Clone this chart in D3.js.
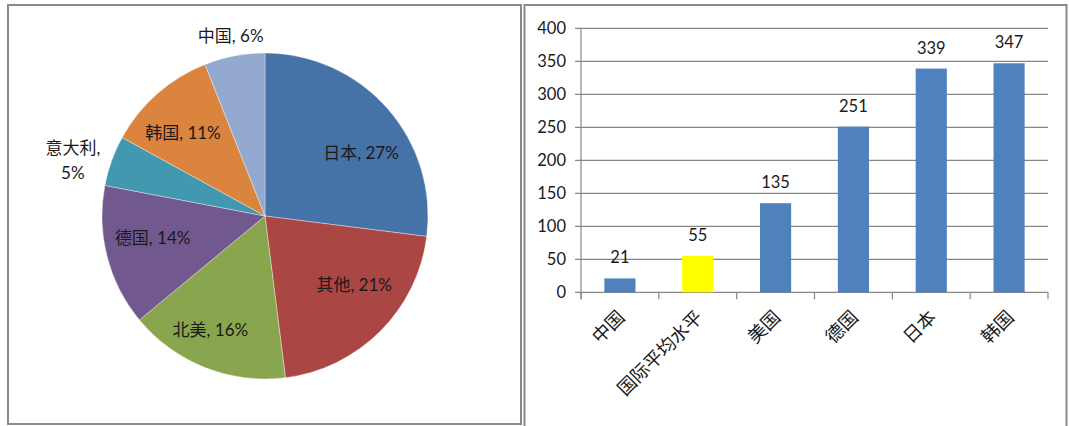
<!DOCTYPE html>
<html><head><meta charset="utf-8">
<script src="https://cdn.jsdelivr.net/npm/d3@7"></script>
<style>
html,body{margin:0;padding:0;background:#fff;}
svg{display:block;}
text{font-family:"Lato","Noto Sans CJK SC",sans-serif;fill:#1a1a1a;}
</style></head>
<body>
<svg id="c" width="1069" height="426"></svg>
<script>
// ---- Pie data ----
const pieNames = ["日本","其他","北美","德国","意大利","韩国","中国"];
const pieValues = [27,21,16,14,5,11,6];
const pieColors = ["#4572A7","#AA4643","#89A54E","#71588F","#4198AF","#DB843D","#93A9CF"];

// ---- Bar data ----
const barCategories = ["中国","国际平均水平","美国","德国","日本","韩国"];
const barValues = [21,55,135,251,339,347];
const barColors = ["#4F81BD","#FFFF00","#4F81BD","#4F81BD","#4F81BD","#4F81BD"];
const yTicks = [0,50,100,150,200,250,300,350,400];

const svg = d3.select("#c");

// panel borders
svg.append("rect").attr("x",8).attr("y",5).attr("width",513).attr("height",419)
  .attr("fill","none").attr("stroke","#8a8a8a").attr("stroke-width",2);
svg.append("rect").attr("x",524.5).attr("y",5).attr("width",542).attr("height",440)
  .attr("fill","none").attr("stroke","#8a8a8a").attr("stroke-width",2);

// ---- Pie ----
const cx = 265, cy = 216, R = 163;
const pie = d3.pie().sort(null).value(d=>d)(pieValues);
const arc = d3.arc().innerRadius(0).outerRadius(R);
const gp = svg.append("g").attr("transform",`translate(${cx},${cy})`);
gp.selectAll("path").data(pie).join("path")
  .attr("d",arc).attr("fill",(d,i)=>pieColors[i])
  .attr("stroke","#fff").attr("stroke-width",0.6).attr("stroke-opacity",0.6);

// label radius and nudges (styling)
const labelR = [112,112,124,116,200,118,183];
const nudge = [[12,11],[10,-10],[-9,-1],[0,-7],[-4,12],[-4,5],[0,0]];
pie.forEach((d,i)=>{
  const a = d3.arc().innerRadius(labelR[i]).outerRadius(labelR[i]);
  const [x,y] = a.centroid(d);
  const px = x + nudge[i][0], py = y + nudge[i][1];
  const t = gp.append("text").attr("text-anchor","middle").style("font-size","17px");
  if (pieNames[i] === "意大利") {
    t.append("tspan").attr("x",px).attr("y",py-12+6).text(pieNames[i]+",");
    t.append("tspan").attr("x",px).attr("y",py+13+6).text(pieValues[i]+"%");
  } else {
    t.attr("x",px).attr("y",py+6).text(pieNames[i]+", "+pieValues[i]+"%");
  }
});

// ---- Bar chart ----
const x0 = 581, x1 = 1048, yTop = 28.3, yBot = 292.3;
const x = d3.scaleBand().domain(barCategories).range([x0,x1]).paddingInner(0.6).paddingOuter(0.3);
const y = d3.scaleLinear().domain([0,400]).range([yBot,yTop]);
const gb = svg.append("g");

gb.selectAll("line.grid").data(yTicks).join("line").attr("class","grid")
  .attr("x1",x0-6).attr("x2",x1).attr("y1",d=>y(d)).attr("y2",d=>y(d))
  .attr("stroke","#868686").attr("stroke-width",1.2);
gb.append("line").attr("x1",x0).attr("x2",x0).attr("y1",yTop).attr("y2",yBot+7)
  .attr("stroke","#868686").attr("stroke-width",1.2);
gb.selectAll("text.yl").data(yTicks).join("text").attr("class","yl")
  .attr("x",x0-15).attr("y",d=>y(d)).attr("dy","0.35em").attr("text-anchor","end")
  .style("font-size","16.5px").text(d=>d);

// category boundary ticks
const step = x.step();
const bounds = d3.range(barCategories.length+1).map(i=>x0+i*step);
gb.selectAll("line.ct").data(bounds).join("line").attr("class","ct")
  .attr("x1",d=>d).attr("x2",d=>d).attr("y1",yBot).attr("y2",yBot+7)
  .attr("stroke","#868686").attr("stroke-width",1.2);

gb.selectAll("rect.bar").data(barValues).join("rect").attr("class","bar")
  .attr("x",(d,i)=>x(barCategories[i])).attr("width",x.bandwidth())
  .attr("y",d=>y(d)).attr("height",d=>yBot-y(d))
  .attr("fill",(d,i)=>barColors[i]);

gb.selectAll("text.vl").data(barValues).join("text").attr("class","vl")
  .attr("x",(d,i)=>x(barCategories[i])+x.bandwidth()/2).attr("y",d=>y(d)-15)
  .attr("text-anchor","middle").style("font-size","16.5px").text(d=>d);

gb.selectAll("text.xl").data(barCategories).join("text").attr("class","xl")
  .attr("transform",d=>`translate(${x(d)+x.bandwidth()/2+6},${yBot+26}) rotate(-45)`)
  .attr("text-anchor","end").style("font-size","18.5px").text(d=>d);
</script>
</body></html>
